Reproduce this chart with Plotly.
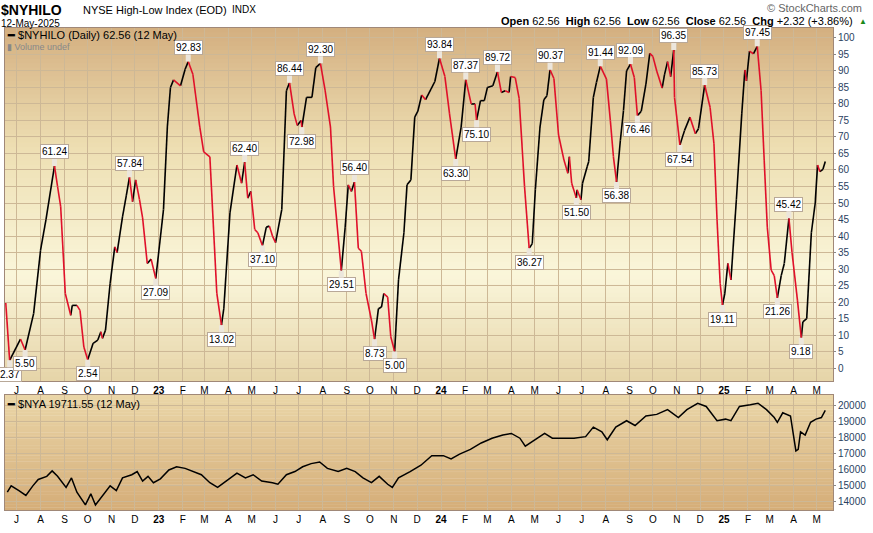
import plotly.graph_objects as go
import pandas as pd

hilo_dates = ["2022-06-17","2022-06-22","2022-07-06","2022-07-12","2022-07-23","2022-08-01","2022-08-08","2022-08-19","2022-08-23","2022-08-27",
"2022-09-02","2022-09-09","2022-09-11","2022-09-17","2022-09-21","2022-09-26","2022-10-01","2022-10-08","2022-10-14","2022-10-18","2022-10-20",
"2022-10-24","2022-10-30","2022-11-05","2022-11-08","2022-11-15","2022-11-20","2022-11-24","2022-11-28","2022-12-02","2022-12-07","2022-12-11",
"2022-12-17","2022-12-22","2022-12-28","2023-01-07","2023-01-12","2023-01-16","2023-01-20","2023-01-29","2023-02-04","2023-02-08","2023-02-14",
"2023-02-23","2023-02-28","2023-03-08","2023-03-17","2023-03-23","2023-03-26","2023-04-03","2023-04-12","2023-04-18","2023-04-22","2023-04-26",
"2023-04-30","2023-05-05","2023-05-09","2023-05-15","2023-05-20","2023-05-24","2023-05-28","2023-06-01","2023-06-09","2023-06-15","2023-06-19",
"2023-06-25","2023-06-29","2023-07-04","2023-07-05","2023-07-11","2023-07-18","2023-07-23","2023-07-29","2023-08-04","2023-08-11","2023-08-15",
"2023-08-21","2023-08-25","2023-08-30","2023-09-03","2023-09-07","2023-09-11","2023-09-16","2023-09-20","2023-09-26","2023-10-03","2023-10-07",
"2023-10-12","2023-10-16","2023-10-19","2023-10-24","2023-10-28","2023-11-02","2023-11-07","2023-11-14","2023-11-18","2023-11-23","2023-11-28",
"2023-12-02","2023-12-07","2023-12-12","2023-12-19","2023-12-24","2023-12-30","2024-01-06","2024-01-12","2024-01-20","2024-01-27","2024-02-02",
"2024-02-09","2024-02-14","2024-02-16","2024-02-21","2024-02-26","2024-03-01","2024-03-08","2024-03-14","2024-03-19","2024-03-24","2024-03-29",
"2024-03-31","2024-04-06","2024-04-11","2024-04-18","2024-04-24","2024-04-28","2024-05-02","2024-05-08","2024-05-13","2024-05-17","2024-05-21",
"2024-05-26","2024-06-01","2024-06-08","2024-06-13","2024-06-15","2024-06-18","2024-06-24","2024-06-25","2024-06-30","2024-07-02","2024-07-08",
"2024-07-10","2024-07-16","2024-07-20","2024-07-25","2024-08-02","2024-08-07","2024-08-11","2024-08-15","2024-08-20","2024-08-24","2024-08-28",
"2024-09-02","2024-09-07","2024-09-11","2024-09-16","2024-09-22","2024-09-27","2024-10-01","2024-10-06","2024-10-13","2024-10-16","2024-10-20",
"2024-10-24","2024-10-28","2024-10-29","2024-11-05","2024-11-11","2024-11-18","2024-11-25","2024-11-29","2024-12-07","2024-12-14","2024-12-19",
"2024-12-23","2024-12-27","2024-12-30","2025-01-02","2025-01-06","2025-01-10","2025-01-17","2025-01-24","2025-01-28","2025-01-30","2025-02-03",
"2025-02-08","2025-02-13","2025-02-18","2025-02-22","2025-02-26","2025-03-03","2025-03-07","2025-03-11","2025-03-16","2025-03-20","2025-03-26",
"2025-03-30","2025-04-06","2025-04-11","2025-04-13","2025-04-18","2025-04-24","2025-04-29","2025-05-02","2025-05-05","2025-05-09","2025-05-12"]
hilo_values = [19.7,2.37,8.8,5.50,16.5,35.7,45,61.24,55,49,
22.6,16,19,19,17.5,6.4,2.54,7.5,8.5,11,9,
11.5,25.7,36.7,35,45.8,52.4,57.84,50.4,57,51,45.5,
31.7,33,27.09,48,73,85,87.3,85.5,90.5,92.83,89,
73,65.5,64,22.6,13.02,18,47,61.5,56,62.40,51.5,
53.5,42,41,37.10,42.7,43,40,38,48,84,86.44,
77,73.5,75,72.98,82,82,91,92.30,84.2,73,55,
39.7,29.51,42.7,55.5,53.5,56.40,36.3,35.4,22.6,14.5,8.73,
18,18.5,22.6,21.5,9.5,5.00,26.7,41,55.5,57,76,
77.8,82.7,81.3,84.5,86.8,93.84,88.3,77,63.30,73,87.37,
80,80,75.10,81,81,85,85.5,89.72,83.5,84,83.5,
88.3,88,81.7,55,36.27,37.7,54,73,81.3,82.5,90.37,
87.7,70.6,63,59,64,56,51.50,54,51,56,61,
62.5,82,86.5,91.44,87.5,75,64,56.38,69,78,90,
92.09,88,76.46,77.8,86,95.3,94.4,90,84.8,88.8,92.8,
88.3,96.35,82,67.54,72,76,71,72.5,85.73,79,68,
45,25.7,19.11,22.5,31.7,26.7,51,77,90.3,87,96,
95.2,97.45,84,63,42.7,29.7,28,21.26,28,31.7,45.42,
35,20.6,9.18,14,15,41,50,61.5,59.5,60.2,62.56]

label_dates = ["2022-06-22","2022-07-12","2022-08-19","2022-10-01","2022-11-24","2022-12-28","2023-02-08","2023-03-23","2023-04-22","2023-05-15",
"2023-06-19","2023-07-05","2023-07-29","2023-08-25","2023-09-11","2023-10-07","2023-11-02","2023-12-30","2024-01-20","2024-02-02",
"2024-02-16","2024-03-14","2024-04-24","2024-05-21","2024-06-24","2024-07-25","2024-08-15","2024-09-02","2024-09-11","2024-10-28",
"2024-11-05","2024-12-07","2024-12-30","2025-02-13","2025-03-11","2025-03-26","2025-04-11"]
label_values = [2.37,5.50,61.24,2.54,57.84,27.09,92.83,13.02,62.40,37.10,86.44,72.98,92.30,29.51,56.40,8.73,5.00,93.84,63.30,87.37,
75.10,89.72,36.27,90.37,51.50,91.44,56.38,92.09,76.46,96.35,67.54,85.73,19.11,97.45,21.26,45.42,9.18]
label_side = ["down","down","up","down","up","down","up","down","up","down","up","down","up","down","up","down","down","up","down","up",
"down","up","down","up","down","up","down","up","down","up","down","up","down","up","down","up","down"]

nya_dates = ["2022-06-19","2022-06-24","2022-07-04","2022-07-13","2022-07-22","2022-07-29","2022-08-09","2022-08-16","2022-08-23","2022-09-03",
"2022-09-10","2022-09-17","2022-09-28","2022-10-05","2022-10-11","2022-10-19","2022-10-30","2022-11-07","2022-11-15","2022-11-27","2022-12-04",
"2022-12-11","2022-12-18","2022-12-25","2023-01-03","2023-01-14","2023-01-24","2023-02-04","2023-02-15","2023-02-25","2023-03-08","2023-03-18",
"2023-03-29","2023-04-12","2023-04-23","2023-05-03","2023-05-14","2023-05-28","2023-06-04","2023-06-15","2023-06-26","2023-07-06","2023-07-17",
"2023-07-28","2023-08-07","2023-08-21","2023-09-01","2023-09-12","2023-09-22","2023-10-03","2023-10-13","2023-10-24","2023-10-30","2023-11-07",
"2023-11-22","2023-12-06","2023-12-20","2024-01-04","2024-01-14","2024-01-25","2024-02-08","2024-02-22","2024-03-07","2024-03-21","2024-04-01",
"2024-04-12","2024-04-19","2024-04-29","2024-05-14","2024-05-24","2024-06-07","2024-06-21","2024-07-06","2024-07-16","2024-07-27","2024-08-03",
"2024-08-14","2024-08-28","2024-09-08","2024-09-22","2024-10-06","2024-10-20","2024-11-03","2024-11-14","2024-11-28","2024-12-09","2024-12-23",
"2025-01-03","2025-01-10","2025-01-21","2025-02-04","2025-02-14","2025-02-25","2025-03-07","2025-03-11","2025-03-18","2025-03-28","2025-04-04",
"2025-04-07","2025-04-10","2025-04-16","2025-04-23","2025-04-30","2025-05-07","2025-05-12"]
nya_values = [14560,14960,14660,14360,14960,15360,15560,15900,15560,14860,
15460,14560,13760,14460,13760,14260,14960,14660,15460,15660,15860,
15260,15560,15160,15400,15960,16160,16060,15860,15660,15160,14860,
15260,15760,15460,15660,15260,15160,15060,15660,15860,16160,16360,
16460,16060,15860,16060,15860,15460,15160,15560,15060,14860,15460,
15860,16260,16860,16860,16660,16960,17260,17660,17960,18160,18260,
17960,17460,17760,18260,17960,17960,17960,18060,18660,18360,17860,
18660,19060,18760,19360,19460,19760,19260,19760,20160,19960,19060,
19160,19060,19960,20060,20160,19760,19260,18960,19560,19360,17160,
17260,18360,18160,18960,19160,19260,19711.55]
nya_ticks = [14000, 15000, 16000, 17000, 18000, 19000, 20000]

month_starts = pd.date_range("2022-07-01", "2025-05-01", freq="MS")
month_text = [("<b>%s</b>" % d.strftime("%y")) if d.month == 1 else d.strftime("%b")[0] for d in month_starts]

font = "Liberation Sans, Arial, sans-serif"
dark = "#000000"; red = "#e0102a"
grid = "#cdb896"

hd = pd.to_datetime(hilo_dates)
up_x, up_y, dn_x, dn_y = [], [], [], []
for i in range(len(hd) - 1):
    tx, ty = (up_x, up_y) if hilo_values[i + 1] >= hilo_values[i] else (dn_x, dn_y)
    tx += [hd[i], hd[i + 1], None]
    ty += [hilo_values[i], hilo_values[i + 1], None]

fig = go.Figure()
fig.add_trace(go.Scatter(x=up_x, y=up_y, mode="lines", line=dict(color=dark, width=1.6), xaxis="x", yaxis="y", hoverinfo="skip"))
fig.add_trace(go.Scatter(x=dn_x, y=dn_y, mode="lines", line=dict(color=red, width=1.6), xaxis="x", yaxis="y", hoverinfo="skip"))
fig.add_trace(go.Scatter(x=pd.to_datetime(nya_dates), y=nya_values, mode="lines", line=dict(color=dark, width=1.5), xaxis="x2", yaxis="y2"))

anns = []
for d, v, s in zip(label_dates, label_values, label_side):
    anns.append(dict(x=d, y=v, xref="x", yref="y", text="%.2f" % v, showarrow=True,
                     ax=0, ay=-14 if s == "up" else 14, arrowhead=0, arrowwidth=5, arrowcolor="#ece6dc",
                     bgcolor="#ffffff", bordercolor="#b8a898", borderwidth=1, borderpad=1,
                     font=dict(family=font, size=10, color="#000")))

def txt(x, y, t, size=11, xanchor="left", color="#000"):
    anns.append(dict(x=x, y=y, xref="paper", yref="paper", text=t, showarrow=False, xanchor=xanchor, yanchor="middle",
                     xshift=-2, font=dict(family=font, size=size, color=color)))

W, H = 873, 533
L, R, T, B = 5, 40, 28, 23
pw, ph = W - L - R, H - T - B
def px(x): return (x - L) / pw
def py(y): return (H - B - y) / ph

txt(px(1), py(10), "<b>$NYHILO</b>", 14)
txt(px(83), py(10), "NYSE High-Low Index (EOD)", 11)
txt(px(232), py(10), "INDX", 10)
txt(px(1), py(23), "12-May-2025", 10)
txt(px(866), py(8), "© StockCharts.com", 11, "right", color="#666")
txt(px(857), py(21), "<b>Open</b> 62.56  <b>High</b> 62.56  <b>Low</b> 62.56  <b>Close</b> 62.56  <b>Chg</b> +2.32 (+3.86%)", 11, "right")
txt(px(859), py(21), "<span style='color:#1a8a1a'>▲</span>", 8)
txt(px(7), py(35), "<b>━</b> $NYHILO (Daily) 62.56 (12 May)", 11)
txt(px(7), py(47), "<span style='color:#888'>▮ Volume undef</span>", 9)
txt(px(7), py(404), "<b>━</b> $NYA 19711.55 (12 May)", 11)

shapes = []
def grad(yref, stops, n=80):
    for k in range(n):
        f = (k + 0.5) / n
        for j in range(len(stops) - 1):
            if stops[j][0] <= f <= stops[j + 1][0]:
                a, b = stops[j], stops[j + 1]
                t = (f - a[0]) / (b[0] - a[0])
                c = [round(a[1][m] + (b[1][m] - a[1][m]) * t) for m in range(3)]
                break
        shapes.append(dict(type="rect", xref="x domain" if yref == "y" else "x2 domain", yref=yref + " domain",
                           x0=0, x1=1, y0=max(0, 1 - (k + 1) / n - 0.004), y1=1 - k / n, fillcolor="rgb(%d,%d,%d)" % tuple(c),
                           line=dict(width=0), layer="below"))
grad("y", [(0, (212, 175, 128)), (0.35, (238, 224, 180)), (0.7, (250, 246, 218)), (1, (230, 212, 168))])
grad("y2", [(0, (234, 214, 168)), (1, (213, 173, 120))])

xr = [pd.Timestamp("2022-06-16"), pd.Timestamp("2025-05-22")]
axcommon = dict(type="date", range=xr, tickvals=month_starts, ticktext=month_text, showgrid=True, gridcolor=grid,
                gridwidth=1, ticks="", tickcolor="#888", showline=True, linecolor="#a08878", mirror=True,
                tickfont=dict(family=font, size=10, color="#000"), zeroline=False)
ycommon = dict(side="right", showgrid=True, gridcolor=grid, ticks="outside", ticklen=2, tickcolor="#888", showline=True,
               linecolor="#a08878", mirror=True, tickfont=dict(family=font, size=10), zeroline=False)
fig.update_layout(
    width=W, height=H, margin=dict(l=L, r=R, t=T, b=B, autoexpand=False), paper_bgcolor="white", plot_bgcolor="rgba(0,0,0,0)",
    showlegend=False, annotations=anns, shapes=shapes,
    xaxis=dict(domain=[0, 1], anchor="y", **axcommon),
    xaxis2=dict(domain=[0, 1], anchor="y2", **axcommon),
    yaxis=dict(domain=[py(381), 1], range=[-3.9, 103], tickvals=list(range(0, 101, 5)), **ycommon),
    yaxis2=dict(domain=[0, py(395)], range=[13440, 20680], tickvals=nya_ticks, ticktext=[str(t) for t in nya_ticks], **ycommon),
)
fig.write_html("out.html", config={"displayModeBar": False},
               post_script="document.body.style.margin='0';document.body.style.overflow='hidden';")
